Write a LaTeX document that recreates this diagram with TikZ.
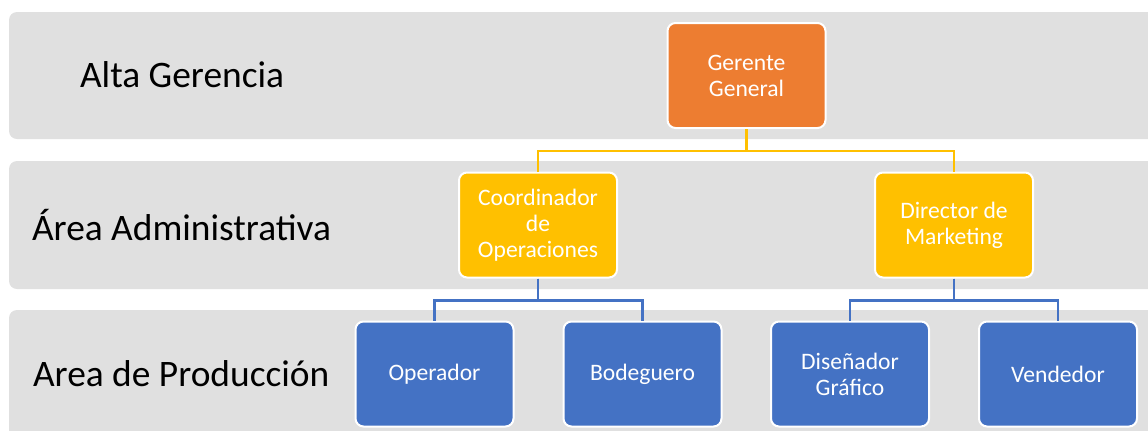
\documentclass[tikz,border=0pt]{standalone}
\usepackage{fontspec}
\setmainfont{Carlito}
\usepackage{xcolor}
\definecolor{bandgray}{HTML}{E0E0E0}
\definecolor{naranja}{HTML}{ED7D31}
\definecolor{amarillo}{HTML}{FFC000}
\definecolor{azul}{HTML}{4472C4}

\begin{document}
\begin{tikzpicture}[x=0.5pt,y=-0.5pt]
				\tikzset{band/.style={fill=bandgray,rounded corners=4pt}}
				\tikzset{nivel/.style={anchor=west,text=black,font=\fontsize{18.7}{22}\selectfont}}
				\tikzset{puesto/.style={draw=white,line width=1pt,rounded corners=4pt,minimum width=79pt,minimum height=52.5pt,align=center,text=white,font=\fontsize{11.8}{13}\selectfont}}
				\tikzset{enlace/.style={line width=1.2pt}}
				\useasboundingbox (0,0) rectangle (1148,430);
				\clip (0,0) rectangle (1148,430);
				% franjas
				\fill[band] (9,12) rectangle (1160,139);
				\fill[band] (9,161) rectangle (1160,289);
				\fill[band] (9,310) rectangle (1160,445);
				\node[nivel] (alta) at (73,75) {Alta Gerencia};
				\node[nivel] (admin) at (25,225) {Área Administrativa};
				\node[nivel] (prod) at (26,374) {Area de Producción};
				% puestos
				\node[puesto,fill=naranja] (gg) at (746.5,75.5) {Gerente\\General};
				\node[puesto,fill=amarillo] (co) at (538,225) {Coordinador\\de\\Operaciones};
				\node[puesto,fill=amarillo] (dm) at (954,225) {Director de\\Marketing};
				\node[puesto,fill=azul] (op) at (434.5,374) {Operador};
				\node[puesto,fill=azul] (bo) at (642.5,374) {Bodeguero};
				\node[puesto,fill=azul] (dg) at (850,374) {Diseñador\\Gráfico};
				\node[puesto,fill=azul] (ve) at (1058,374) {Vendedor};
				% enlaces
				\draw[enlace,amarillo] (gg.south) -- ++(0,22) -| (co.north);
				\draw[enlace,amarillo] (gg.south) -- ++(0,22) -| (dm.north);
				\draw[enlace,azul] (co.south) -- ++(0,22) -| (op.north);
				\draw[enlace,azul] (co.south) -- ++(0,22) -| (bo.north);
				\draw[enlace,azul] (dm.south) -- ++(0,22) -| (dg.north);
				\draw[enlace,azul] (dm.south) -- ++(0,22) -| (ve.north);
			\end{tikzpicture}
\end{document}
